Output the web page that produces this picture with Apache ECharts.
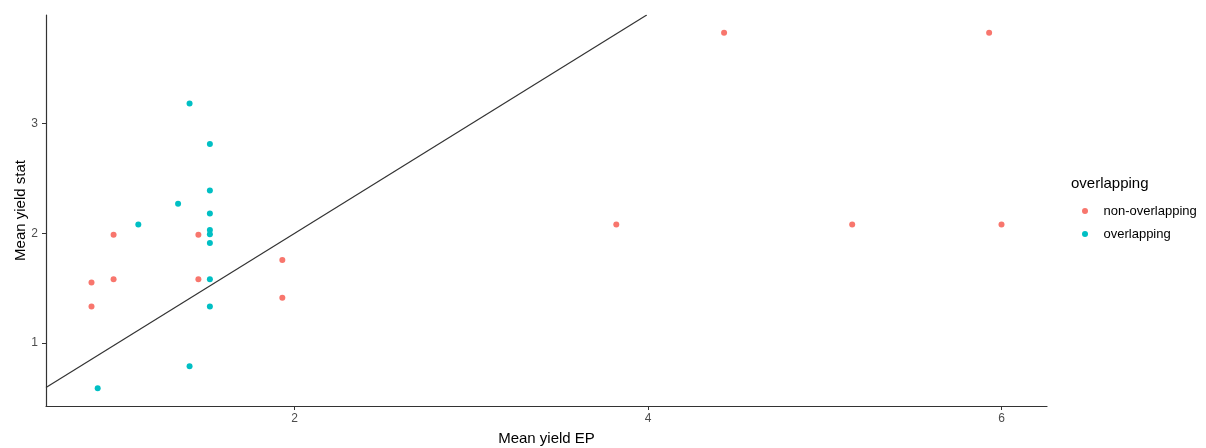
<!DOCTYPE html>
<html>
<head>
<meta charset="utf-8">
<script src="https://cdn.jsdelivr.net/npm/echarts@6/dist/echarts.min.js"></script>
<style>html,body{margin:0;padding:0;background:#fff}#c{width:1206px;height:448px}</style>
</head>
<body>
<div id="c"></div>
<script>
// Data
const nonOverlapX = [0.85, 0.85, 0.975, 0.975, 1.455, 1.455, 1.93, 1.93, 3.82, 4.43, 5.155, 5.93, 6.0];
const nonOverlapY = [1.55, 1.33, 1.985, 1.58, 1.985, 1.58, 1.755, 1.41, 2.08, 3.83, 2.08, 3.83, 2.08];
const overlapX = [0.885, 1.115, 1.34, 1.405, 1.405, 1.52, 1.52, 1.52, 1.52, 1.52, 1.52, 1.52, 1.52];
const overlapY = [0.585, 2.08, 2.27, 3.185, 0.785, 2.815, 2.39, 2.18, 2.03, 1.99, 1.91, 1.58, 1.33];
const xTicks = [2, 4, 6];
const yTicks = [1, 2, 3];
const seriesNames = ['non-overlapping', 'overlapping'];
const legendTitle = 'overlapping';
const xTitle = 'Mean yield EP';
const yTitle = 'Mean yield stat';

const allX = nonOverlapX.concat(overlapX), allY = nonOverlapY.concat(overlapY);
function expand(v){ const a=Math.min(...v), b=Math.max(...v), d=(b-a)*0.05; return [a-d, b+d]; }
const [xMin, xMax] = expand(allX);
const [yMin, yMax] = expand(allY);
const pairs = (xs, ys) => xs.map((x, i) => [x, ys[i]]);

const font = 'Liberation Sans, Arial, sans-serif';
const chart = echarts.init(document.getElementById('c'), null, {renderer: 'canvas'});
const axisCommon = {
  type: 'value',
  nameLocation: 'middle',
  nameMoveOverlap: false,
  nameTextStyle: {color: '#000', fontSize: 15, fontFamily: font},
  axisLine: {show: true, onZero: false, lineStyle: {color: '#333', width: 1.2}},
  axisTick: {show: true, length: 4, lineStyle: {color: '#333'}},
  splitLine: {show: false},
  axisLabel: {color: '#4d4d4d', fontSize: 12, fontFamily: font, margin: 8}
};
chart.setOption({
  animation: false,
  backgroundColor: '#fff',
  grid: {left: 46, right: 159, top: 15, bottom: 42, containLabel: false, outerBoundsMode: 'none'},
  title: {text: legendTitle, left: 1071, top: 176, textStyle: {fontSize: 15, fontWeight: 'normal', color: '#000', fontFamily: font}, padding: 0},
  legend: {
    orient: 'vertical', left: 1082, top: 204, padding: 0,
    itemWidth: 27, itemHeight: 6, itemGap: 9,
    data: seriesNames.map(n => ({name: n, icon: 'circle'})),
    textStyle: {fontSize: 13, color: '#000', fontFamily: font, lineHeight: 14}
  },
  xAxis: Object.assign({}, axisCommon, {
    min: xMin, max: xMax, name: xTitle, nameGap: 25,
    axisLabel: Object.assign({}, axisCommon.axisLabel, {customValues: xTicks, margin: 7}),
    axisTick: Object.assign({}, axisCommon.axisTick, {customValues: xTicks})
  }),
  yAxis: Object.assign({}, axisCommon, {
    min: yMin, max: yMax, name: yTitle, nameGap: 18,
    axisLabel: Object.assign({}, axisCommon.axisLabel, {customValues: yTicks}),
    axisTick: Object.assign({}, axisCommon.axisTick, {customValues: yTicks})
  }),
  series: [
    {type: 'line', data: [[xMin, xMin], [yMax, yMax]], showSymbol: false, symbol: 'none', silent: true,
     lineStyle: {color: '#333', width: 1.2}, z: 1},
    {name: seriesNames[0], type: 'scatter', data: pairs(nonOverlapX, nonOverlapY), symbolSize: 6,
     itemStyle: {color: '#F8766D', opacity: 1}, z: 2},
    {name: seriesNames[1], type: 'scatter', data: pairs(overlapX, overlapY), symbolSize: 6,
     itemStyle: {color: '#00BFC4', opacity: 1}, z: 2}
  ]
});
</script>
</body>
</html>
